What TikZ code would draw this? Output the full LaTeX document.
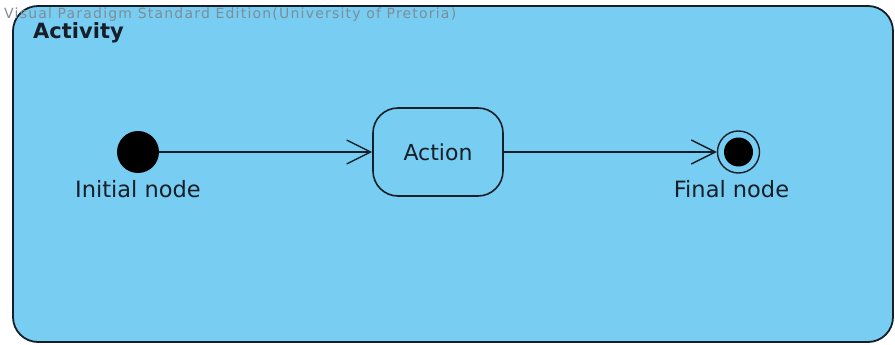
\documentclass[tikz,border=0pt]{standalone}
\usepackage{fontspec}
\setmainfont{DejaVu Sans}
\usepackage{xcolor}
\usepackage{tikz}
\usetikzlibrary{arrows.meta,positioning}
\usetikzlibrary{calc}

\definecolor{actblue}{RGB}{120,205,242}
\definecolor{inkdark}{RGB}{22,30,40}
\definecolor{markgray}{RGB}{128,140,150}

\begin{document}
\begin{tikzpicture}[
  x=1pt, y=-1pt,
  node distance=213pt,
  frame/.style={draw=inkdark, line width=1.8pt, fill=actblue, rounded corners=25pt,
    minimum width=880pt, minimum height=336pt, inner sep=0pt},
  init/.style={circle, fill=black, minimum size=42pt, inner sep=0pt},
  act/.style={draw=inkdark, line width=1.6pt, rounded corners=25pt,
    minimum width=130pt, minimum height=88pt, inner sep=0pt,
    font=\fontsize{22}{26}\selectfont, text=inkdark},
  final/.style={circle, draw=inkdark, line width=1.4pt, minimum size=42pt, inner sep=0pt},
  finaldot/.style={circle, fill=black, minimum size=29pt, inner sep=0pt},
  lbl/.style={inner sep=0pt, font=\fontsize{22.5}{26}\selectfont, text=inkdark},
  arr/.style={-{Straight Barb[length=24pt, width=24pt]}, line width=1.4pt, draw=inkdark}
]
  \useasboundingbox (0,0) rectangle (895,345);

  \node[frame] (activity) at (453,174) {};
  \node[anchor=base west, inner sep=0pt, text=markgray,
    font=\fontsize{14}{16}\selectfont\addfontfeatures{LetterSpace=8.6}] (mark) at (4,19)
    {Visual Paradigm Standard Edition(University of Pretoria)};
  \node[anchor=base west, inner sep=0pt, text=inkdark,
    font=\bfseries\fontsize{21}{25}\selectfont] (title) at (33,39) {Activity};

  \node[init] (start) at (138,152) {};
  \node[act, right=of start] (action) {Action};
  \node[final, right=of action] (stop) {};
  \node[finaldot] (stopdot) at (stop) {};

  \node[lbl, below=7pt of start] (startlbl) {Initial node};
  \node[lbl, below=7pt of stop, xshift=-7pt] (stoplbl) {Final node};

  \draw[arr] (start) -- (action);
  \draw[arr] (action) -- (stop);
\end{tikzpicture}
\end{document}
